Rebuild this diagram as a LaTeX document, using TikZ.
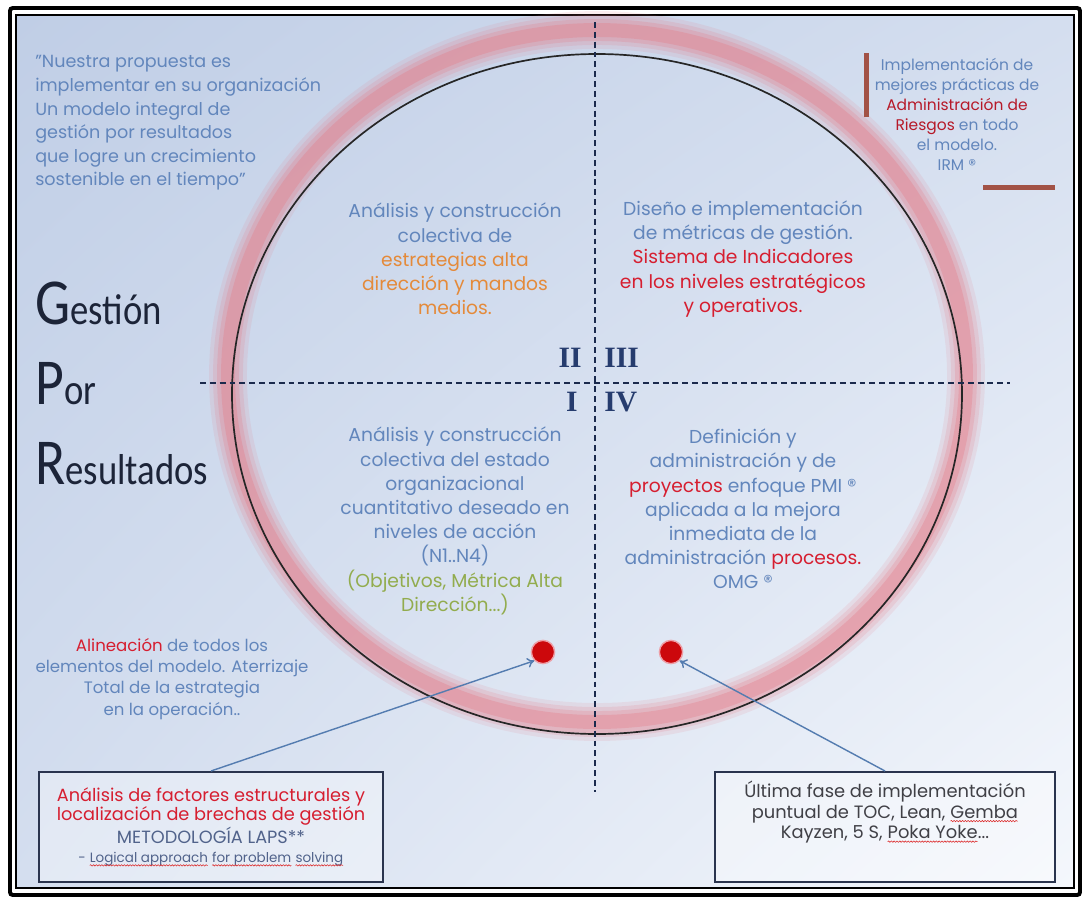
\documentclass[tikz,border=0pt]{standalone}
\usepackage{fontspec}
\setmainfont{Poppins}
\newfontfamily\calibfont{Carlito}
\newfontfamily\numfont{Liberation Serif}
\usetikzlibrary{arrows.meta, positioning, calc, shadings, decorations.pathmorphing}

\definecolor{bgtop}{RGB}{192,206,230}
\definecolor{bgmid}{RGB}{212,222,239}
\definecolor{bglow}{RGB}{244,247,252}
\definecolor{txtblue}{RGB}{98,134,188}
\definecolor{txtorange}{RGB}{228,138,58}
\definecolor{txtred}{RGB}{214,30,48}
\definecolor{txtgreen}{RGB}{146,172,78}
\definecolor{romannavy}{RGB}{38,60,110}
\definecolor{titleink}{RGB}{28,36,56}
\definecolor{barred}{RGB}{162,82,70}
\definecolor{halored}{RGB}{230,116,128}
\definecolor{dotred}{RGB}{204,8,12}
\definecolor{arrowblue}{RGB}{84,124,176}
\definecolor{boxnavy}{RGB}{42,52,78}
\definecolor{boxgray}{RGB}{64,64,70}
\definecolor{squigred}{RGB}{220,40,40}

% word with a wavy red underline
\newcommand\squig[2]{\tikz[baseline=(sqw.base)]{%
  \node[draw=none, fill=none, anchor=base, minimum width=0pt, minimum height=0pt,
        inner sep=0pt, outer sep=0pt, text=#1] (sqw) at (0,0) {#2};
  \draw[squigred, line width=0.4pt, decorate, decoration={snake, amplitude=0.5pt, segment length=2pt}]
    ([yshift=-2.2pt]sqw.base west) -- ([yshift=-2.2pt]sqw.base east);}}

\tikzset{
  quadtext/.style={align=center, text=txtblue, inner sep=0pt, font=\fontsize{13.3}{17.2}\selectfont},
  sidetext/.style={align=center, text=txtblue, inner sep=0pt, font=\fontsize{11}{14.6}\selectfont},
  romannum/.style={text=romannavy, inner sep=0pt, font=\numfont\bfseries\fontsize{21}{21}\selectfont},
  bigword/.style={anchor=base west, text=titleink, inner sep=0pt, font=\calibfont},
  axisline/.style={romannavy!70!black, line width=1.1pt, dash pattern=on 4.2pt off 2.8pt},
  notebox/.style={draw=boxnavy, line width=1.3pt, fill=white, fill opacity=0.35, text opacity=1, inner sep=0pt, anchor=north},
  reddot/.style={circle, fill=dotred, draw=halored!70, line width=1pt, inner sep=0pt, minimum size=0.58cm},
  pointer/.style={arrowblue, line width=1pt, -{To[length=5pt, width=7pt]}}
}

\newcommand\bigletter[2]{\scalebox{0.9}[1.06]{{\fontsize{44}{44}\selectfont #1}{\fontsize{29}{29}\selectfont #2}}}

\begin{document}
\begin{tikzpicture}[x=0.025cm, y=-0.025cm]
  \useasboundingbox (0,0) rectangle (1088,902);
  \fill[white] (0,0) rectangle (1088,902);

  % background and frame
  \shade[upper left=bgtop, upper right=bgmid, lower left=bgmid, lower right=bglow] (17,16) rectangle (1073,887);
  \draw[black, line width=2.8pt, rounded corners=2pt] (10,8) rectangle (1080,895);
  \draw[black, line width=1.4pt] (16,15) rectangle (1074,888);

  % glowing ring
  \foreach \w/\o in {38/0.12, 30/0.16, 22/0.22, 14/0.3} {
    \draw[halored, line width=\w*0.709pt, opacity=\o] (597,376) ellipse [x radius=369, y radius=346];
  }
  \draw[black!85, line width=1.2pt] (597,394) ellipse [x radius=365, y radius=340];

  % quadrant axes
  \coordinate (axtop) at (595,22);
  \coordinate (axbot) at (595,792);
  \coordinate (axleft) at (200,383);
  \coordinate (axright) at (1010,383);
  \draw[axisline] (axtop) -- (axbot);
  \draw[axisline] (axleft) -- (axright);

  % roman numerals
  \node[romannum, anchor=base east] (numII) at (582,367) {II};
  \node[romannum, anchor=base west] (numIII) at (604,367) {III};
  \node[romannum, anchor=base east] (numI) at (578,411) {I};
  \node[romannum, anchor=base west] (numIV) at (604,411) {IV};

  % quadrant II
  \node[quadtext] (qII) at (455,259) {
    Análisis y construcción\\
    colectiva de\\
    \textcolor{txtorange}{estrategias alta}\\
    \textcolor{txtorange}{dirección y mandos}\\
    \textcolor{txtorange}{medios.}
  };

  % quadrant III
  \node[quadtext] (qIII) at (743,259) {
    Diseño e implementación\\
    de métricas de gestión.\\
    \textcolor{txtred}{Sistema de Indicadores}\\
    \textcolor{txtred}{en los niveles estratégicos}\\
    \textcolor{txtred}{y operativos.}
  };

  % quadrant I
  \node[quadtext] (qI) at (455,521) {
    Análisis y construcción\\
    colectiva del estado\\
    organizacional\\
    cuantitativo deseado en\\
    niveles de acción\\
    (N1..N4)\\
    \textcolor{txtgreen}{(Objetivos, Métrica Alta}\\
    \textcolor{txtgreen}{Dirección...)}
  };

  % quadrant IV
  \node[quadtext] (qIV) at (743,509) {
    Definición y\\
    administración y de\\
    \textcolor{txtred}{proyectos} enfoque PMI ®\\
    aplicada a la mejora\\
    inmediata de la\\
    administración \textcolor{txtred}{procesos.}\\
    OMG ®
  };

  % side texts
  \node[sidetext, align=left, anchor=west, font=\fontsize{12.5}{16.8}\selectfont] (quote) at (35,123) {
    "Nuestra propuesta es\\
    implementar en su organización\\
    Un modelo integral de\\
    gestión por resultados\\
    que logre un crecimiento\\
    sostenible en el tiempo"
  };

  \node[sidetext, font=\fontsize{11}{14.2}\selectfont] (riesgos) at (957,114) {
    Implementación de\\
    mejores prácticas de\\
    \textcolor{txtred!85!black}{Administración de}\\
    \textcolor{txtred!85!black}{Riesgos} en todo\\
    el modelo.\\
    IRM ®
  };
  \fill[barred] (864,53) rectangle (869,117);
  \fill[barred] (983,185) rectangle (1055,190);

  \node[sidetext, font=\fontsize{11.8}{15}\selectfont] (alineacion) at (172,679) {
    \textcolor{txtred}{Alineación} de todos los\\
    elementos del modelo. Aterrizaje\\
    Total de la estrategia\\
    en la operación..
  };

  % Gestion Por Resultados
  \node[bigword] (gestion) at (35,324) {\bigletter{G}{estión}};
  \node[bigword] (por) at (35,404) {\bigletter{P}{or}};
  \node[bigword] (resultados) at (35,484) {\bigletter{R}{esultados}};

  % red markers
  \node[reddot] (dotL) at (543,652) {};
  \node[reddot] (dotR) at (671,652) {};

  % note boxes
  \node[notebox, minimum width=8.6cm, minimum height=2.75cm] (boxL) at (211,771) {%
    \parbox[c][2.5cm][c]{8.5cm}{\centering\fontsize{12.6}{13.6}\selectfont
      \textcolor{txtred}{Análisis de factores estructurales y}\\
      \textcolor{txtred}{localización de brechas de gestión}\\
      \textcolor{romannavy!80}{METODOLOGÍA LAPS**}\\
      {\fontsize{9.6}{12.4}\selectfont\textcolor{romannavy!80}{- }\squig{romannavy!80}{Logical approach} \squig{romannavy!80}{for problem} \squig{romannavy!80}{solving}}}};

  \node[notebox, minimum width=8.5cm, minimum height=2.75cm] (boxR) at (885,771) {%
    \parbox[c][2.3cm][t]{8.3cm}{\centering\fontsize{12.7}{14.6}\selectfont\color{boxgray}
      Última fase de implementación\\
      puntual de TOC, Lean, \squig{boxgray}{Gemba}\\
      Kayzen, 5 S, \squig{boxgray}{Poka Yoke}...}};

  % pointers
  \draw[pointer] (boxL.north) -- (dotL.south west);
  \draw[pointer] (boxR.north) -- (dotR.south east);
\end{tikzpicture}
\end{document}
